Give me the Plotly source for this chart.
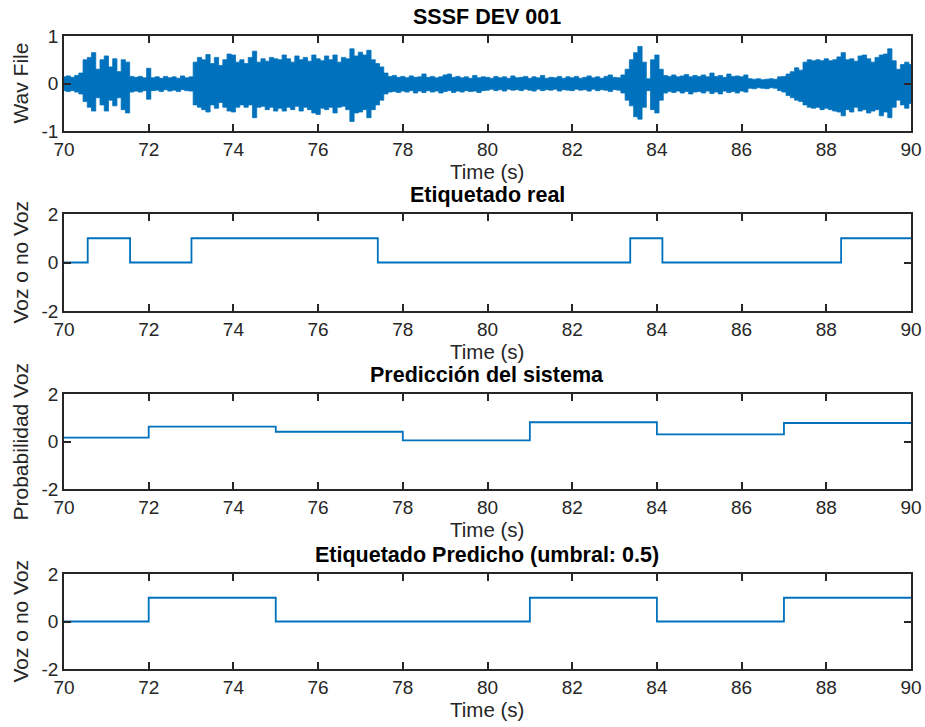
import numpy as np
import plotly.graph_objects as go

# ---------------- data ----------------
# waveform envelope (read from picture), sampled every 0.1 s from 70.0 to 90.0
wav_t = np.round(np.linspace(70.0, 90.0, 201), 1)
wav_upper = [
    0.14, 0.16, 0.13, 0.17, 0.22, 0.50, 0.55, 0.65, 0.30, 0.50,   # 70.0-70.9
    0.58, 0.35, 0.52, 0.25, 0.50, 0.45, 0.15, 0.13, 0.15, 0.12,   # 71.0-71.9
    0.32, 0.12, 0.14, 0.11, 0.15, 0.12, 0.14, 0.11, 0.16, 0.12,   # 72.0-72.9
    0.14, 0.45, 0.55, 0.50, 0.61, 0.42, 0.55, 0.38, 0.50, 0.62,   # 73.0-73.9
    0.60, 0.45, 0.50, 0.42, 0.55, 0.68, 0.45, 0.52, 0.47, 0.55,   # 74.0-74.9
    0.52, 0.50, 0.60, 0.52, 0.45, 0.58, 0.50, 0.55, 0.47, 0.60,   # 75.0-75.9
    0.52, 0.48, 0.58, 0.50, 0.60, 0.45, 0.55, 0.52, 0.73, 0.58,   # 76.0-76.9
    0.66, 0.60, 0.70, 0.50, 0.42, 0.35, 0.22, 0.15, 0.17, 0.13,   # 77.0-77.9
    0.15, 0.12, 0.16, 0.13, 0.14, 0.20, 0.13, 0.15, 0.12, 0.14,   # 78.0-78.9
    0.18, 0.20, 0.13, 0.15, 0.12, 0.14, 0.11, 0.17, 0.12, 0.14,   # 79.0-79.9
    0.13, 0.11, 0.15, 0.12, 0.14, 0.11, 0.16, 0.12, 0.13, 0.15,   # 80.0-80.9
    0.11, 0.14, 0.12, 0.17, 0.11, 0.13, 0.12, 0.15, 0.11, 0.14,   # 81.0-81.9
    0.12, 0.15, 0.11, 0.13, 0.16, 0.12, 0.14, 0.11, 0.15, 0.18,   # 82.0-82.9
    0.13, 0.12, 0.18, 0.30, 0.50, 0.65, 0.78, 0.45, 0.10, 0.50,   # 83.0-83.9
    0.60, 0.30, 0.17, 0.15, 0.18, 0.14, 0.16, 0.19, 0.14, 0.17,   # 84.0-84.9
    0.15, 0.18, 0.14, 0.22, 0.15, 0.17, 0.13, 0.20, 0.15, 0.16,   # 85.0-85.9
    0.14, 0.18, 0.10, 0.09, 0.10, 0.08, 0.09, 0.10, 0.09, 0.14,   # 86.0-86.9
    0.15, 0.20, 0.25, 0.33, 0.28, 0.45, 0.50, 0.48, 0.50, 0.48,   # 87.0-87.9
    0.52, 0.48, 0.50, 0.56, 0.65, 0.50, 0.52, 0.47, 0.58, 0.60,   # 88.0-88.9
    0.52, 0.45, 0.55, 0.60, 0.62, 0.73, 0.48, 0.30, 0.40, 0.45,   # 89.0-89.9
    0.40,                                                         # 90.0
]
wav_lower = [
    -0.15, -0.17, -0.15, -0.18, -0.22, -0.38, -0.50, -0.58, -0.30, -0.45,
    -0.58, -0.35, -0.47, -0.30, -0.55, -0.62, -0.18, -0.16, -0.18, -0.15,
    -0.33, -0.15, -0.14, -0.17, -0.13, -0.16, -0.14, -0.17, -0.13, -0.15,
    -0.16, -0.45, -0.50, -0.55, -0.60, -0.45, -0.52, -0.40, -0.50, -0.58,
    -0.60, -0.50, -0.45, -0.50, -0.45, -0.72, -0.50, -0.48, -0.55, -0.50,
    -0.58, -0.52, -0.58, -0.50, -0.55, -0.48, -0.58, -0.50, -0.55, -0.62,
    -0.65, -0.52, -0.55, -0.50, -0.62, -0.50, -0.48, -0.55, -0.80, -0.62,
    -0.60, -0.55, -0.72, -0.55, -0.45, -0.35, -0.22, -0.18, -0.17, -0.19,
    -0.16, -0.18, -0.15, -0.20, -0.16, -0.19, -0.15, -0.18, -0.16, -0.20,
    -0.17, -0.15, -0.19, -0.16, -0.18, -0.15, -0.17, -0.16, -0.19, -0.15,
    -0.14, -0.12, -0.15, -0.13, -0.16, -0.12, -0.14, -0.13, -0.15, -0.12,
    -0.14, -0.16, -0.12, -0.15, -0.13, -0.14, -0.12, -0.16, -0.13, -0.14,
    -0.15, -0.12, -0.14, -0.13, -0.16, -0.12, -0.15, -0.13, -0.14, -0.17,
    -0.13, -0.14, -0.20, -0.35, -0.47, -0.70, -0.75, -0.50, -0.15, -0.55,
    -0.62, -0.35, -0.20, -0.17, -0.19, -0.16, -0.20, -0.17, -0.22, -0.18,
    -0.17, -0.20, -0.16, -0.21, -0.18, -0.22, -0.16, -0.19, -0.17, -0.20,
    -0.16, -0.18, -0.10, -0.11, -0.09, -0.10, -0.11, -0.09, -0.10, -0.15,
    -0.18, -0.25, -0.30, -0.35, -0.38, -0.45, -0.50, -0.52, -0.50, -0.55,
    -0.52, -0.55, -0.58, -0.60, -0.68, -0.55, -0.60, -0.50, -0.58, -0.55,
    -0.62, -0.58, -0.55, -0.68, -0.60, -0.72, -0.50, -0.35, -0.45, -0.52,
    -0.42,
]

# true labels (Etiquetado real): change times and values
real_t = [70.0, 70.56, 71.56, 73.01, 77.41, 83.37, 84.13, 88.35, 90.0]
real_v = [0, 1, 0, 1, 0, 1, 0, 1, 1]

# system prediction (probability), 3-second blocks
pred_t = [70.0, 72.0, 75.0, 78.0, 81.0, 84.0, 87.0, 90.0]
pred_v = [0.16, 0.63, 0.41, 0.05, 0.81, 0.30, 0.78, 0.78]

# predicted labels (threshold 0.5)
lab_t = [70.0, 72.0, 75.0, 81.0, 84.0, 87.0, 90.0]
lab_v = [0, 1, 0, 1, 0, 1, 1]

x_ticks = [70, 72, 74, 76, 78, 80, 82, 84, 86, 88, 90]
y_ticks_wav = [-1, 0, 1]
y_ticks_lab = [-2, 0, 2]
titles = ["SSSF DEV 001", "Etiquetado real", "Predicción del sistema",
          "Etiquetado Predicho (umbral: 0.5)"]
ylabels = ["Wav File", "Voz o no Voz", "Probabilidad Voz", "Voz o no Voz"]

# ---------------- figure ----------------
W, H = 925, 727
BLUE = "#0072BD"
AX = "#262626"
FONT = "Liberation Sans, Arial, Helvetica, sans-serif"
FS = 19

# panel boxes in pixels (top, bottom)
boxes = [(36, 131), (214, 311), (394, 489), (574, 669)]
x0px, x1px = 64, 911

fig = go.Figure()

# waveform as filled envelope
fig.add_trace(go.Scatter(
    x=list(wav_t) + list(wav_t[::-1]),
    y=list(wav_upper) + list(wav_lower[::-1]),
    fill="toself", fillcolor=BLUE, mode="lines",
    line=dict(color=BLUE, width=0.8, shape="hvh"), xaxis="x", yaxis="y",
    hoverinfo="skip", showlegend=False))

for i, (tx, vy) in enumerate([(real_t, real_v), (pred_t, pred_v), (lab_t, lab_v)]):
    n = i + 2
    fig.add_trace(go.Scatter(
        x=tx, y=vy, mode="lines", line=dict(color=BLUE, width=1.8, shape="hv"),
        xaxis=f"x{n}", yaxis=f"y{n}", showlegend=False))

layout = dict(
    width=W, height=H, margin=dict(l=0, r=0, t=0, b=0, autoexpand=False),
    paper_bgcolor="white", plot_bgcolor="white",
    font=dict(family=FONT, color=AX, size=FS),
    showlegend=False,
)
annotations = []
yranges = [[-1, 1], [-2, 2], [-2, 2], [-2, 2]]
ytick_sets = [y_ticks_wav, y_ticks_lab, y_ticks_lab, y_ticks_lab]
for i, (top, bot) in enumerate(boxes):
    n = "" if i == 0 else str(i + 1)
    layout[f"xaxis{n}"] = dict(
        domain=[x0px / W, x1px / W], anchor=f"y{n}", range=[70, 90],
        tickvals=x_ticks, ticktext=[str(v) for v in x_ticks],
        ticks="inside", ticklen=7, tickwidth=1.5,
        tickcolor=AX, showline=True, linecolor=AX, linewidth=1.8,
        mirror="ticks", showgrid=False, zeroline=False,
        tickfont=dict(size=FS, color=AX, family=FONT),
    )
    layout[f"yaxis{n}"] = dict(
        domain=[1 - bot / H, 1 - top / H], anchor=f"x{n}", range=yranges[i],
        tickvals=ytick_sets[i], ticktext=[str(v) for v in ytick_sets[i]],
        ticks="inside", ticklen=7, tickwidth=1.5,
        tickcolor=AX, showline=True, linecolor=AX, linewidth=1.8,
        mirror="ticks", showgrid=False, zeroline=False,
        tickfont=dict(size=FS, color=AX, family=FONT),
    )
    cx = (x0px + x1px) / 2 / W
    annotations.append(dict(
        text=f"<b>{titles[i]}</b>", x=cx, y=1 - (top - 19) / H,
        xref="paper", yref="paper", xanchor="center", yanchor="middle",
        showarrow=False, font=dict(size=21.5, color="black", family=FONT)))
    annotations.append(dict(
        text="Time (s)", x=cx, y=1 - (bot + 40) / H,
        xref="paper", yref="paper", xanchor="center", yanchor="middle",
        showarrow=False, font=dict(size=20.5, color=AX, family=FONT)))
    annotations.append(dict(
        text=ylabels[i], x=20 / W, y=1 - (top + bot) / 2 / H,
        xref="paper", yref="paper", xanchor="center", yanchor="middle",
        textangle=-90, showarrow=False,
        font=dict(size=21, color=AX, family=FONT)))
layout["annotations"] = annotations
fig.update_layout(**layout)

fig.write_html(
    "out.html",
    config={"displayModeBar": False},
    post_script="document.body.style.margin='0';document.body.style.overflow='hidden';",
)
